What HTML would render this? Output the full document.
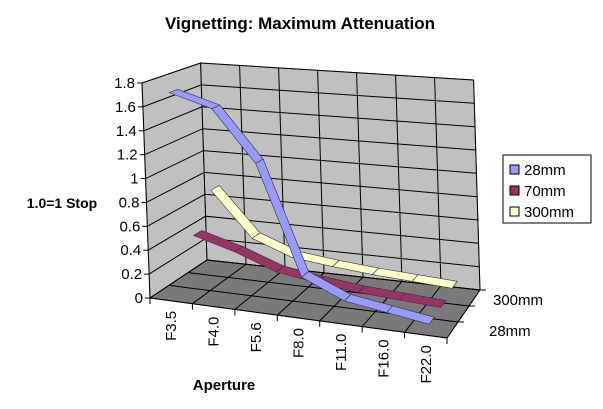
<!DOCTYPE html>
<html><head><meta charset="utf-8"><style>
html,body{margin:0;padding:0;background:#fff}
svg{display:block}
text{font-family:"Liberation Sans",Arial,sans-serif}
</style></head><body>
<svg id="s" width="603" height="409" viewBox="0 0 603 409" xmlns="http://www.w3.org/2000/svg">
<rect width="603" height="409" fill="#fff"/>
<text x="300" y="29" font-size="17" font-weight="bold" text-anchor="middle">Vignetting: Maximum Attenuation</text>
<text x="62" y="208" font-size="14" font-weight="bold" text-anchor="middle">1.0=1 Stop</text>
<text x="224" y="390" font-size="15" font-weight="bold" text-anchor="middle">Aperture</text>
<g id="g"></g>
<rect x="503" y="155" width="88" height="68" fill="#fff" stroke="#000" stroke-width="1"/>
<rect x="510" y="165" width="9" height="9" fill="#9999ff" stroke="#000"/>
<text x="524" y="175" font-size="15">28mm</text>
<rect x="510" y="186" width="9" height="9" fill="#993366" stroke="#000"/>
<text x="524" y="196" font-size="15">70mm</text>
<rect x="510" y="207" width="9" height="9" fill="#ffffcc" stroke="#000"/>
<text x="524" y="217" font-size="15">300mm</text>
<text x="493" y="305" font-size="15">300mm</text>
<text x="489" y="336" font-size="15">28mm</text>
</svg>
<script>
var g=document.getElementById('g'),NS='http://www.w3.org/2000/svg';
function el(t,a,txt){var e=document.createElementNS(NS,t);for(var k in a)e.setAttribute(k,a[k]);if(txt!=null)e.textContent=txt;g.appendChild(e);return e;}
function lerp(a,b,t){return a+(b-a)*t;}
function P(c,d,v){var t=c/7,u=d/3;
 var fx=lerp(150,447,t),fy=lerp(298,338,t),bx=lerp(207,480,t),by=lerp(260,290,t);
 var x=lerp(fx,bx,u),y=lerp(fy,by,u);
 var H=lerp(lerp(215,225,t),lerp(197,210,t),u);
 return [x-8*v/1.8*(1-u*0.2),y-v/1.8*H];}
function pts(a){return a.map(function(p){return p[0].toFixed(1)+','+p[1].toFixed(1)}).join(' ');}
el('polygon',{points:pts([P(0,0,0),P(0,3,0),P(0,3,1.8),P(0,0,1.8)]),fill:'#c0c0c0',stroke:'#808080'});
el('polygon',{points:pts([P(0,3,0),P(7,3,0),P(7,3,1.8),P(0,3,1.8)]),fill:'#c0c0c0',stroke:'#808080'});
el('polygon',{points:pts([P(0,0,0),P(7,0,0),P(7,3,0),P(0,3,0)]),fill:'#7a7a7a',stroke:'#404040'});
var L={stroke:'#000','stroke-width':1,fill:'none'};
for(var i=0;i<=9;i++){var v=i*0.2;
 var a=P(0,0,v),b=P(0,3,v),c=P(7,3,v);
 el('polyline',Object.assign({points:pts([a,b,c])},L));
 el('line',{x1:a[0]-5,y1:a[1],x2:a[0],y2:a[1],stroke:'#000'});
 el('text',{x:a[0]-7,y:a[1]+5,'font-size':15,'text-anchor':'end'},(Math.round(v*10)/10).toString());}
for(var c=0;c<=7;c++){var a=P(c,0,0),b=P(c,3,0),t=P(c,3,1.8);
 el('polyline',Object.assign({points:pts([a,b,t])},L));
 el('line',{x1:a[0],y1:a[1],x2:a[0],y2:a[1]+6,stroke:'#000'});}
for(var d=0;d<=3;d++){var a=P(0,d,0),b=P(7,d,0);el('line',{x1:a[0],y1:a[1],x2:b[0],y2:b[1],stroke:'#000'});
 if(d>0)el('line',{x1:b[0],y1:b[1],x2:b[0]+6,y2:b[1],stroke:'#000'});}
el('line',{x1:P(0,0,0)[0],y1:P(0,0,0)[1],x2:P(0,0,1.8)[0],y2:P(0,0,1.8)[1],stroke:'#000'});
var cats=['F3.5','F4.0','F5.6','F8.0','F11.0','F16.0','F22.0'];
cats.forEach(function(s,i){var p=P(i+0.5,0,0);
 el('text',{x:0,y:0,'font-size':15,'text-anchor':'end',transform:'translate('+(p[0]+5).toFixed(1)+','+(p[1]+10).toFixed(1)+') rotate(-90)'},s);});
var data=[[0.3,[1.72,1.62,1.2,0.3,0.15,0.1,0.05],'#9999ff'],
 [1.3,[0.42,0.32,0.19,0.14,0.1,0.08,0.06],'#993366'],
 [2.3,[0.72,0.33,0.2,0.16,0.13,0.11,0.09],'#ffffcc']];
for(var s=2;s>=0;s--){var d0=data[s][0],d1=d0+0.45,vals=data[s][1];
 for(var i=0;i<6;i++){
  var q=[P(i+0.5,d0,vals[i]),P(i+1.5,d0,vals[i+1]),P(i+1.5,d1,vals[i+1]),P(i+0.5,d1,vals[i])];
  el('polygon',{points:pts(q),fill:data[s][2],stroke:'#333','stroke-width':0.6});}}
</script>
</body></html>
